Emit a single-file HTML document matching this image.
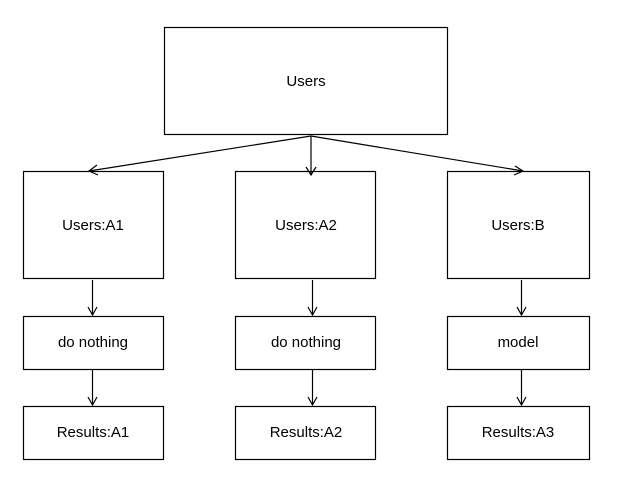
<!DOCTYPE html>
<html><head><style>body{margin:0;background:#fff}</style></head><body>
<svg width="623" height="490" xmlns="http://www.w3.org/2000/svg" font-family="Liberation Sans, sans-serif" font-size="15" fill="none" stroke="#000" stroke-width="1.2">
<rect x="164.5" y="27.5" width="283" height="107"/>
<rect x="23.5" y="171.5" width="140" height="107"/>
<rect x="235.5" y="171.5" width="140" height="107"/>
<rect x="447.5" y="171.5" width="142" height="107"/>
<rect x="23.5" y="316.5" width="140" height="53"/>
<rect x="235.5" y="316.5" width="140" height="53"/>
<rect x="447.5" y="316.5" width="142" height="53"/>
<rect x="23.5" y="406.5" width="140" height="53"/>
<rect x="235.5" y="406.5" width="140" height="53"/>
<rect x="447.5" y="406.5" width="142" height="53"/>
<g>
<line x1="311" y1="136" x2="89" y2="171"/><polyline points="97,165 89,171 98,175"/>
<line x1="311" y1="136" x2="311" y2="175"/><polyline points="306,167 311,175 316,167"/>
<line x1="311" y1="136" x2="523" y2="171"/><polyline points="515,166 523,171 514,175"/>
<line x1="92.5" y1="280" x2="92.5" y2="315"/><polyline points="88,307 92.5,315 97,307"/>
<line x1="312.5" y1="280" x2="312.5" y2="315"/><polyline points="308,307 312.5,315 317,307"/>
<line x1="521.5" y1="280" x2="521.5" y2="315"/><polyline points="517,307 521.5,315 526,307"/>
<line x1="92.5" y1="370" x2="92.5" y2="405"/><polyline points="88,397 92.5,405 97,397"/>
<line x1="312.5" y1="370" x2="312.5" y2="405"/><polyline points="308,397 312.5,405 317,397"/>
<line x1="521.5" y1="370" x2="521.5" y2="405"/><polyline points="517,397 521.5,405 526,397"/>
</g>
<g fill="#000" stroke="none" text-anchor="middle">
<text x="306" y="86">Users</text>
<text x="93" y="230">Users:A1</text>
<text x="306" y="230">Users:A2</text>
<text x="518" y="230">Users:B</text>
<text x="93" y="347">do nothing</text>
<text x="306" y="347">do nothing</text>
<text x="518" y="347">model</text>
<text x="93" y="437">Results:A1</text>
<text x="306" y="437">Results:A2</text>
<text x="518" y="437">Results:A3</text>
</g>
</svg>
</body></html>
